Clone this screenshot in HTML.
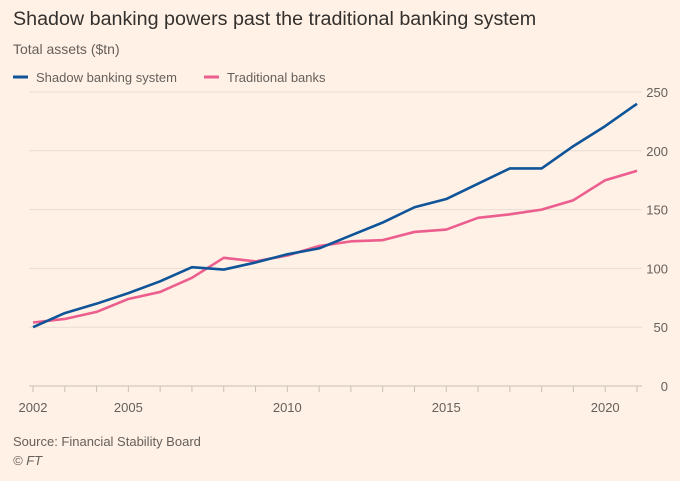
<!DOCTYPE html>
<html><head><meta charset="utf-8"><style>
html,body{margin:0;padding:0;background:#fff1e5;}
body{width:680px;height:476px;overflow:hidden;font-family:"Liberation Sans",sans-serif;}
</style></head><body>
<svg width="680" height="476" xmlns="http://www.w3.org/2000/svg">
<rect width="680" height="476" fill="#fff1e5"/>
<text x="13" y="25" font-size="19.7" fill="#33302e">Shadow banking powers past the traditional banking system</text>
<text x="13" y="54" font-size="14" fill="#66605c">Total assets ($tn)</text>
<g>
<line x1="13" y1="77" x2="28" y2="77" stroke="#0f5499" stroke-width="3"/>
<text x="36" y="82" font-size="13" fill="#66605c">Shadow banking system</text>
<line x1="204" y1="77" x2="219" y2="77" stroke="#eb5e8d" stroke-width="3"/>
<text x="227" y="82" font-size="13" fill="#66605c">Traditional banks</text>
</g>
<g id="grid"></g><g id="xaxis"></g><g id="lines"></g>
<text x="13" y="446" font-size="13" fill="#66605c">Source: Financial Stability Board</text>
<text x="13" y="465" font-size="13" font-style="italic" fill="#66605c">© FT</text>
</svg>
<script>
const years=[2002,2003,2004,2005,2006,2007,2008,2009,2010,2011,2012,2013,2014,2015,2016,2017,2018,2019,2020,2021];
const shadow=[50,62,70,79,89,101,99,105,112,117,128,139,152,159,172,185,185,204,221,240];
const traditional=[54,57,63,74,80,92,109,106,111,119,123,124,131,133,143,146,150,158,175,183];
const yTicks=[0,50,100,150,200,250];
const xLabels=[2002,2005,2010,2015,2020];
const NS="http://www.w3.org/2000/svg";
const x=v=>33+(v-2002)*(604/19);
const y=v=>386-v*(294/250);
function mk(tag,attrs,parent){const e=document.createElementNS(NS,tag);for(const k in attrs)e.setAttribute(k,attrs[k]);parent.appendChild(e);return e;}
const grid=document.getElementById('grid'),xa=document.getElementById('xaxis'),ln=document.getElementById('lines');
yTicks.forEach(t=>{
 const l=mk('line',{x1:29,x2:642,y1:y(t),y2:y(t),stroke:t===0?'#c9c0b8':'#e9ddd3','stroke-width':1},grid);
 
 
 const tx=mk('text',{x:668,y:y(t)+5,'font-size':13,fill:'#66605c','text-anchor':'end'},grid);
 tx.textContent=t;
 
 
});
years.forEach(yr=>{
 const l=mk('line',{x1:x(yr),x2:x(yr),y1:y(0),y2:y(0)+6,stroke:'#c9c0b8'},xa);
 
 
});
xLabels.forEach(yr=>{
 const t=mk('text',{x:x(yr),y:412,'font-size':13,fill:'#66605c','text-anchor':'middle'},xa);
 t.textContent=yr;
 
 
});
function series(vals,color,name){
 const p=mk('polyline',{points:vals.map((v,i)=>x(years[i])+','+y(v)).join(' '),fill:'none',stroke:color,'stroke-width':2.6,'stroke-linejoin':'round'},ln);
 
 
}
series(traditional,'#eb5e8d','traditional-banks-line');
series(shadow,'#0f5499','shadow-banking-line');
</script>
</body></html>
